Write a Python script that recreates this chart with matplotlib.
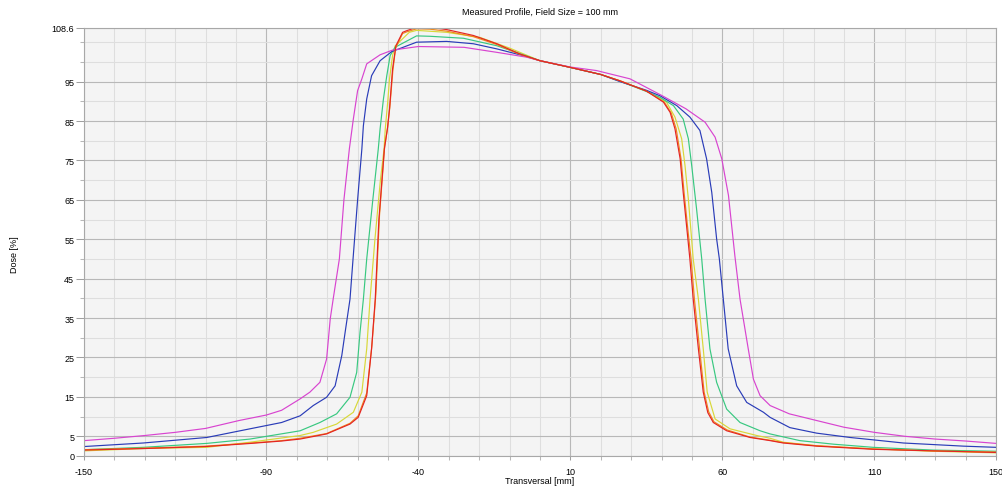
import matplotlib
matplotlib.use("Agg")
import matplotlib.pyplot as plt
from matplotlib.ticker import FixedLocator, MultipleLocator

# ---- data ----
red_x = [-150, -130, -110, -95, -85, -78.9, -70.2, -62.5, -59.8, -57, -55.4, -54.2, -53, -51.2, -50.2, -49.5,
         -48.5, -47.4, -45.2, -43.9, -40.6, -36.2, -30.7, -21.9, -14.2, -6.6, 0, 10, 20, 26.3, 35, 40.6, 42.8,
         44.4, 46.1, 47.1, 48.2, 49.3, 50.4, 52.1, 53.7, 55.2, 57, 61.4, 69.1, 75.7, 80, 91, 109.6, 129.4, 150]
red_y = [1.5, 1.9, 2.4, 3.2, 3.8, 4.3, 5.6, 8.1, 9.8, 15.3, 27.2, 39.8, 60, 77.9, 83, 88.1,
         98.2, 104.1, 107.5, 107.9, 108.8, 108.8, 108.2, 106.7, 104.6, 102, 100.3, 98.6, 96.8, 95.2, 92.6, 89.8, 87.2,
         83, 75.4, 66.9, 58.5, 50, 39.8, 27.2, 16.2, 11, 8.5, 6.4, 4.7, 3.9, 3.3, 2.5, 1.7, 1.3, 0.9]

orange_x = [-150, -130, -110, -95, -85, -78.9, -70.2, -62.5, -59.8, -57, -55.3, -54.0, -52.8, -51.1, -50.1, -49.4,
            -48.4, -47.5, -45.2, -43.9, -40.6, -36.2, -30.7, -21.9, -14.2, -6.6, 0, 10, 20, 26.3, 35, 40.9, 43.2,
            44.8, 46.4, 47.4, 48.5, 49.7, 50.8, 52.5, 54, 55.5, 57.2, 61.6, 69.1, 75.7, 80, 91, 109.6, 129.4, 150]
orange_y = [1.6, 2.0, 2.5, 3.3, 3.9, 4.5, 5.7, 8.3, 10.2, 16, 28, 41, 61, 78.5, 83.5, 88.5,
            97.8, 103.5, 107.2, 107.6, 108.4, 108.3, 107.8, 106.4, 104.4, 101.9, 100.3, 98.6, 96.8, 95.2, 92.6, 89.8, 87.0,
            83, 75.4, 66.9, 58.5, 50, 39.8, 27.2, 16.2, 11.2, 8.7, 6.6, 4.8, 4.0, 3.4, 2.6, 1.8, 1.3, 1.0]

yellow_x = [-150, -130, -109.6, -95.4, -78.9, -74.6, -66.9, -61.4, -58.6, -57, -55.9, -54.3, -52.5, -51.3, -50.9,
            -50.1, -49.5, -48.5, -47.7, -43, -40.6, -30.7, -19.7, -10, 0, 10, 20, 26.3, 35, 41.6, 44.4, 46.6,
            47.7, 48.8, 50.4, 52.1, 53.7, 55, 57.6, 62.5, 71.3, 75.7, 80, 91, 109.6, 129.4, 150]
yellow_y = [1.3, 1.9, 2.2, 3.5, 5.2, 6.0, 8.1, 11.1, 16.2, 27.2, 39.8, 55, 70, 77.9, 83,
            89.8, 95.7, 101.6, 104, 107.5, 108.0, 107.5, 106.2, 103.5, 100.3, 98.6, 96.8, 95.2, 92.6, 89.8, 86, 80.5,
            73.7, 65.2, 50, 39.8, 27.2, 16.2, 9.4, 6.9, 5.2, 4.5, 3.5, 2.6, 1.8, 1.2, 0.8]

green_x = [-150, -130.5, -109.6, -95.4, -78.9, -72.4, -66.9, -62.5, -60.3, -59.2, -58.1, -57, -55, -53.2,
           -52.6, -51.5, -50.4, -49.3, -47.7, -40.6, -36.2, -25.2, -14.2, -5.5, 0, 10, 20, 26.3, 35, 39.5, 43.9,
           47.1, 48.8, 49.9, 51.5, 53.2, 54.3, 55.9, 58.1, 61.4, 65.8, 72.4, 75.7, 85.5, 96.5, 109.6, 129.4, 150]
green_y = [1.6, 2.2, 3.2, 4.3, 6.4, 8.5, 10.7, 14.9, 21.2, 31.4, 39.8, 50, 65, 77.9,
           83, 90.6, 96.5, 101.6, 103.7, 106.6, 106.5, 106.0, 104.1, 101.8, 100.3, 98.6, 96.8, 95.1, 92.5, 91, 88.9,
           85.5, 80.5, 73.7, 62.7, 50, 39.8, 27.2, 18.7, 11.9, 8.5, 6.4, 5.6, 3.9, 3.0, 2.2, 1.5, 1.2]

blue_x = [-150, -130.5, -109.6, -95.4, -85, -78.9, -74.6, -70.2, -67.4, -65.2, -64.1, -62.5, -61.5, -60,
          -58.6, -58.1, -57, -55.4, -52.6, -48.8, -40.6, -30.7, -21.9, -14.2, -5.6, 0, 10, 20, 26.3, 35, 39.5, 45,
          49.3, 52.6, 54.8, 56.5, 58.1, 59, 60.3, 61.9, 64.7, 68, 73.5, 75.7, 82.2, 91, 102, 109.6, 119.5,
          129.4, 139.3, 150]
blue_y = [2.4, 3.3, 4.7, 6.9, 8.5, 10.2, 12.8, 14.9, 17.8, 25.5, 31.4, 39.8, 50, 65,
          77.9, 83.8, 90.6, 96.5, 100.3, 102.6, 105, 105.2, 104.6, 103.3, 101.6, 100.3, 98.6, 96.8, 95, 92.8, 91.4, 88.9,
          86, 82.6, 75.4, 66.9, 55.1, 50, 39.8, 27.2, 17.8, 13.6, 11.1, 9.8, 7.2, 5.8, 4.7, 4.1, 3.3,
          2.9, 2.5, 2.2]

magenta_x = [-150, -140, -130, -120, -110, -99, -90, -85, -78.9, -75.7, -72.4, -70.2, -69, -68, -66, -64.5, -62.7,
             -61.4, -60, -58.6, -57, -52.6, -48.5, -40, -25, -14, -4.4, 0, 10, 18.6, 29.6, 40, 48, 54.3, 57.6,
             59.8, 62, 64.1, 65.8, 68.5, 70.2, 72.4, 75.7, 82, 91, 100, 110, 120, 130, 140, 150]
magenta_y = [3.9, 4.5, 5.2, 6.0, 7.0, 9.0, 10.4, 11.6, 14.5, 16.2, 18.7, 24.6, 34.8, 40, 50, 65, 78,
             85.5, 92.7, 95.7, 99.5, 101.8, 103, 103.9, 103.7, 102.4, 101.2, 100.3, 98.7, 97.8, 95.7, 91.5, 88.1, 84.7, 80.9,
             75.4, 66.1, 50.8, 39.8, 27.2, 19.5, 15.3, 12.8, 10.7, 9.0, 7.3, 6.0, 5.0, 4.3, 3.8, 3.2]

series = [
    (yellow_x, yellow_y, "#d8d838"),
    (green_x, green_y, "#38c880"),
    (blue_x, blue_y, "#2a3cb8"),
    (magenta_x, magenta_y, "#d844d0"),
    (orange_x, orange_y, "#f08a1c"),
    (red_x, red_y, "#e42424"),
]

x_major = [-150, -90, -40, 10, 60, 110, 150]
y_major = [0, 5, 15, 25, 35, 45, 55, 65, 75, 85, 95, 108.6]
y_labels = ["0", "5", "15", "25", "35", "45", "55", "65", "75", "85", "95", "108.6"]

title = "Measured Profile, Field Size = 100 mm"
xlabel = "Transversal [mm]"
ylabel = "Dose [%]"

# ---- figure ----
plt.rcParams['font.family'] = ['Liberation Sans', 'DejaVu Sans']
plt.rcParams['axes.unicode_minus'] = False
fig = plt.figure(figsize=(10.03, 4.89), dpi=100)
ax = fig.add_axes([84 / 1003, 1 - 457 / 489, (996 - 84) / 1003, (457 - 29) / 489])
ax.set_facecolor("#f4f4f4")

for xs, ys, c in series:
    ax.plot(xs, ys, color=c, lw=0.85, solid_joinstyle="round")

ax.set_xlim(-150, 150)
ax.set_ylim(0, 108.6)

ax.xaxis.set_major_locator(FixedLocator(x_major))
ax.xaxis.set_minor_locator(MultipleLocator(10))
ax.yaxis.set_major_locator(FixedLocator(y_major))
ax.set_yticklabels(y_labels)
ax.yaxis.set_minor_locator(MultipleLocator(5))

ax.grid(which="minor", color="#dedede", lw=0.75)
ax.grid(which="major", color="#b8b8b8", lw=0.8)
ax.set_axisbelow(True)

for s in ax.spines.values():
    s.set_color("#a8a8a8")
    s.set_linewidth(0.8)

ax.tick_params(axis="y", which="major", length=6, width=0.75, color="#a0a0a0", labelsize=6.5, pad=1)
ax.tick_params(axis="y", which="minor", length=3, width=0.75, color="#b8b8b8")
ax.tick_params(axis="x", which="major", length=3, width=0.75, color="#a0a0a0", labelsize=6.5, pad=5)
ax.tick_params(axis="x", which="minor", length=3, width=0.75, color="#b8b8b8")

ax.set_title(title, fontsize=6.5, pad=10)
ax.set_xlabel(xlabel, fontsize=6.5, labelpad=0)
fig.text(15 / 1003, 1 - 255 / 489, ylabel, rotation=90, fontsize=6.5, ha="center", va="center")

fig.savefig("out.png", dpi=100)
